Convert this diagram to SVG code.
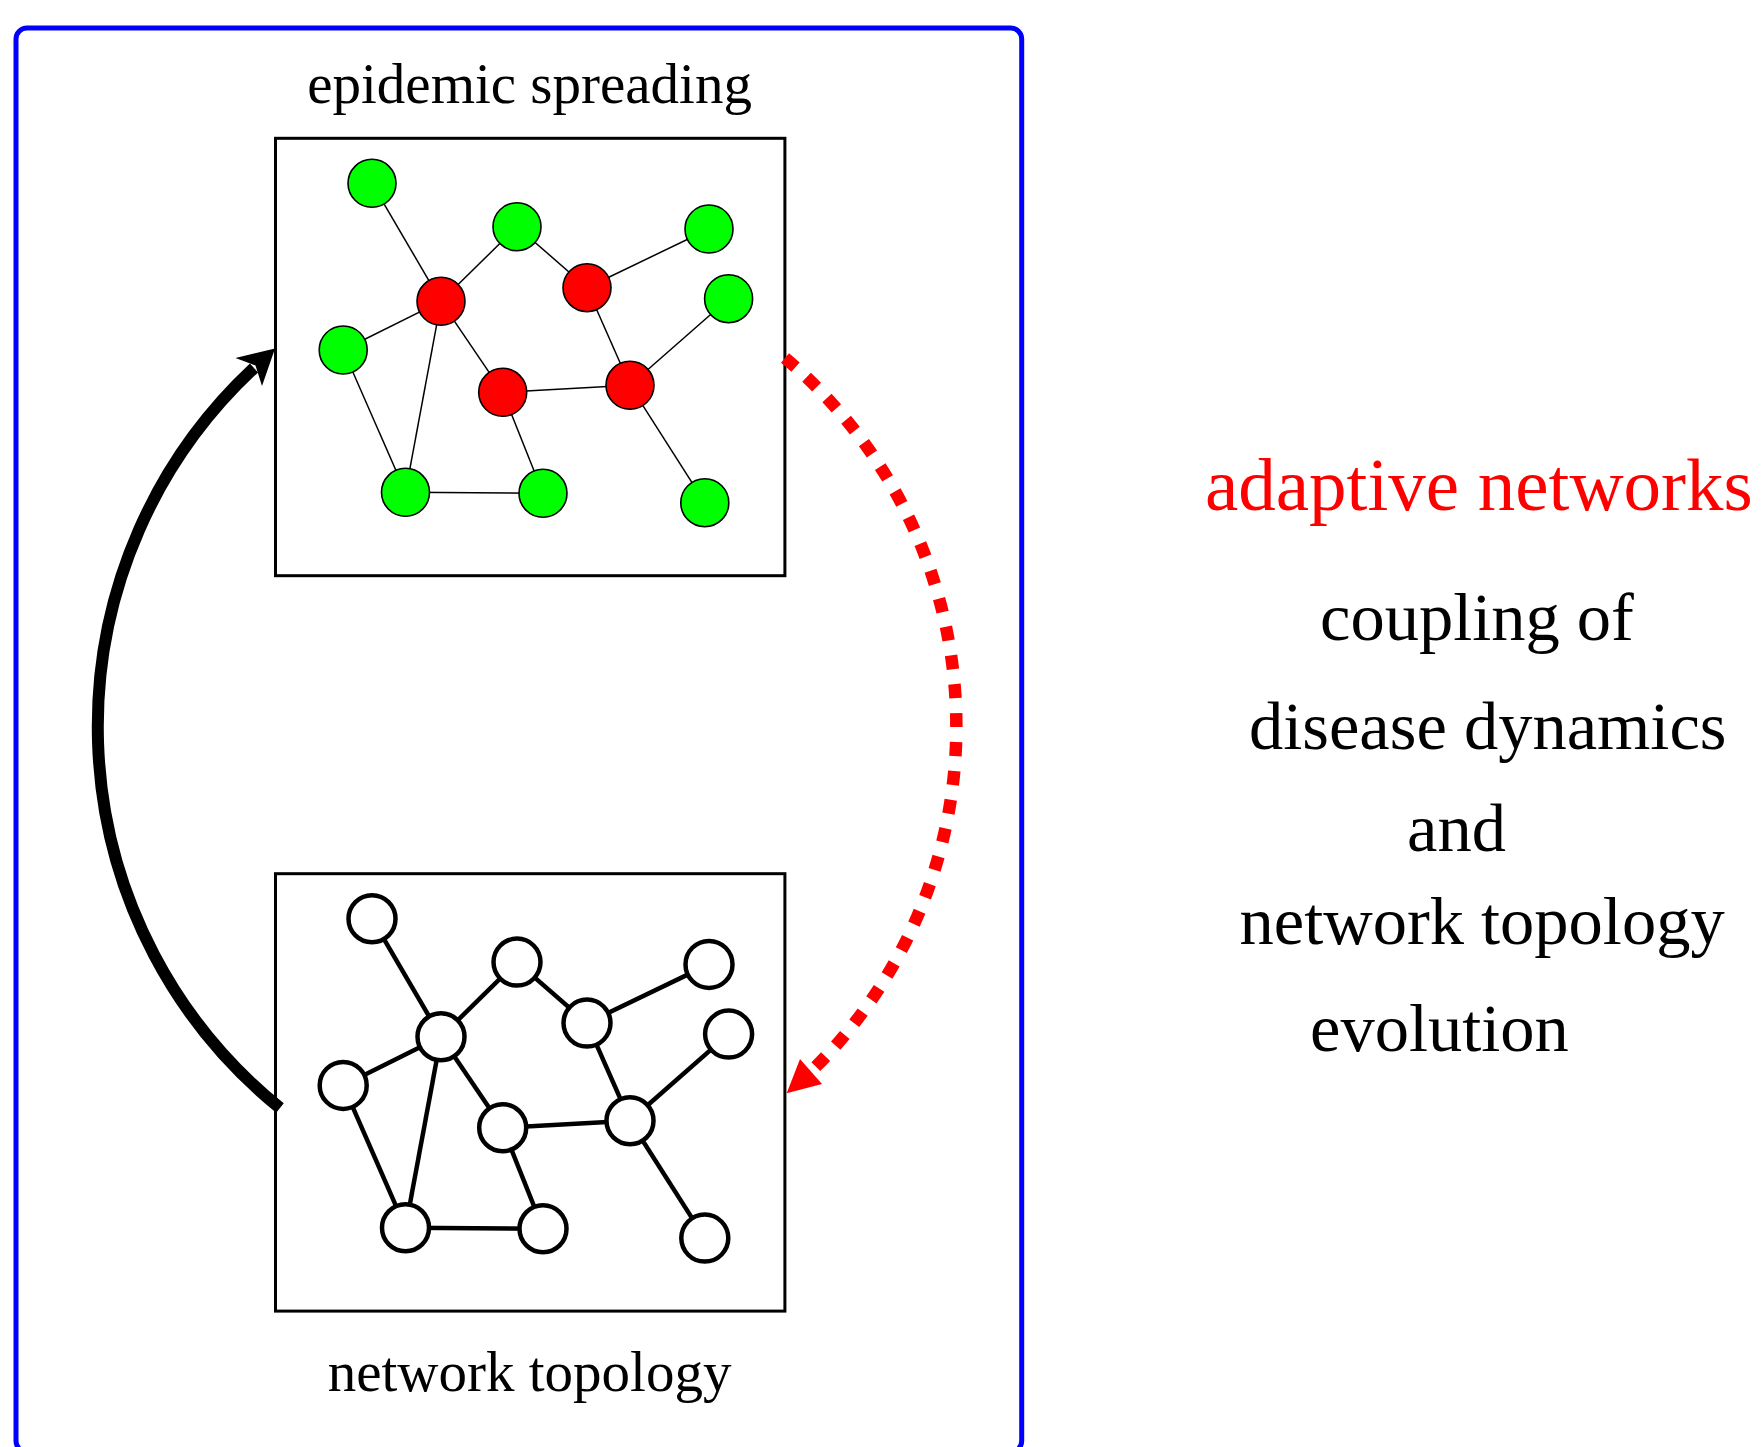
<svg xmlns="http://www.w3.org/2000/svg" width="1763" height="1447" viewBox="0 0 1763 1447">
<style>
.txt{font-family:"Liberation Serif","Times New Roman",serif;fill:#000}
.panel{fill:none;stroke:#000;stroke-width:3}
.e1{stroke:#000;stroke-width:1.5;fill:none}
.e2{stroke:#000;stroke-width:4.5;fill:none}
.g{fill:#00ff00;stroke:#000;stroke-width:1.6}
.r{fill:#ff0000;stroke:#000;stroke-width:1.6}
.w{fill:#fff;stroke:#000;stroke-width:4.5}
</style>
<rect id="frame" x="16" y="28" width="1005.7" height="1424" rx="11" fill="none" stroke="#0000ff" stroke-width="5"/>
<g id="panel-top"><rect class="panel" x="275.5" y="138.3" width="509.4" height="437.4"/></g>
<g id="panel-bottom"><rect class="panel" x="275.5" y="873.7" width="509.4" height="437.4"/></g>
<text class="txt" x="529.6" y="103" font-size="57" text-anchor="middle">epidemic spreading</text>
<text class="txt" x="529.6" y="1391" font-size="57" text-anchor="middle">network topology</text>
<text x="1205" y="509.7" font-size="75" style="font-family:'Liberation Serif','Times New Roman',serif;fill:#ff0000">adaptive networks</text>
<text class="txt" x="1320" y="639.5" font-size="68.5">coupling of</text>
<text class="txt" x="1249" y="748.7" font-size="68.5">disease dynamics</text>
<text class="txt" x="1407" y="851.2" font-size="68.5">and</text>
<text class="txt" x="1239.5" y="943.7" font-size="68.5">network topology</text>
<text class="txt" x="1310" y="1051" font-size="68.5">evolution</text>
<g id="connectors">
<g id="edges-top" class="e1">
<line x1="372" y1="183.3" x2="441" y2="301.3"/>
<line x1="517" y1="226.7" x2="441" y2="301.3"/>
<line x1="517" y1="226.7" x2="587" y2="287.7"/>
<line x1="709" y1="229" x2="587" y2="287.7"/>
<line x1="441" y1="301.3" x2="343.2" y2="350"/>
<line x1="441" y1="301.3" x2="502.7" y2="392.3"/>
<line x1="441" y1="301.3" x2="405.5" y2="492.3"/>
<line x1="587" y1="287.7" x2="630" y2="385.3"/>
<line x1="728.6" y1="298.7" x2="630" y2="385.3"/>
<line x1="343.2" y1="350" x2="405.5" y2="492.3"/>
<line x1="502.7" y1="392.3" x2="630" y2="385.3"/>
<line x1="502.7" y1="392.3" x2="543" y2="493.3"/>
<line x1="630" y1="385.3" x2="704.8" y2="502.7"/>
<line x1="405.5" y1="492.3" x2="543" y2="493.3"/>
</g>
<g id="edges-bottom" class="e2">
<line x1="372" y1="918.7" x2="441" y2="1036.7"/>
<line x1="517" y1="962.1" x2="441" y2="1036.7"/>
<line x1="517" y1="962.1" x2="587" y2="1023.1"/>
<line x1="709" y1="964.4" x2="587" y2="1023.1"/>
<line x1="441" y1="1036.7" x2="343.2" y2="1085.4"/>
<line x1="441" y1="1036.7" x2="502.7" y2="1127.7"/>
<line x1="441" y1="1036.7" x2="405.5" y2="1227.7"/>
<line x1="587" y1="1023.1" x2="630" y2="1120.7"/>
<line x1="728.6" y1="1034.1" x2="630" y2="1120.7"/>
<line x1="343.2" y1="1085.4" x2="405.5" y2="1227.7"/>
<line x1="502.7" y1="1127.7" x2="630" y2="1120.7"/>
<line x1="502.7" y1="1127.7" x2="543" y2="1228.7"/>
<line x1="630" y1="1120.7" x2="704.8" y2="1238.1"/>
<line x1="405.5" y1="1227.7" x2="543" y2="1228.7"/>
</g>
<g id="arrow-topology-to-epidemic">
<path d="M280 1108 A490 490 0 0 1 254 368" fill="none" stroke="#000" stroke-width="12"/>
<polygon points="275,348.5 235.5,358 255.5,365.5 262,386" fill="#000"/>
</g>
<g id="arrow-epidemic-to-topology">
<path d="M785 358 A482 482 0 0 1 811 1071.5" fill="none" stroke="#ff0000" stroke-width="12.5" stroke-dasharray="14 15"/>
<polygon points="786.7,1093.3 800,1059 822,1084" fill="#ff0000"/>
</g>
</g>
<g id="top-nodes">
<g id="t1"><circle class="g" cx="372" cy="183.3" r="24"/></g>
<g id="t2"><circle class="g" cx="517" cy="226.7" r="24"/></g>
<g id="t3"><circle class="g" cx="709" cy="229" r="24"/></g>
<g id="t4"><circle class="r" cx="441" cy="301.3" r="24"/></g>
<g id="t5"><circle class="r" cx="587" cy="287.7" r="24"/></g>
<g id="t6"><circle class="g" cx="728.6" cy="298.7" r="24"/></g>
<g id="t7"><circle class="g" cx="343.2" cy="350" r="24"/></g>
<g id="t8"><circle class="r" cx="502.7" cy="392.3" r="24"/></g>
<g id="t9"><circle class="r" cx="630" cy="385.3" r="24"/></g>
<g id="t10"><circle class="g" cx="405.5" cy="492.3" r="24"/></g>
<g id="t11"><circle class="g" cx="543" cy="493.3" r="24"/></g>
<g id="t12"><circle class="g" cx="704.8" cy="502.7" r="24"/></g>
</g>
<g id="bottom-nodes">
<g id="b1"><circle class="w" cx="372" cy="918.7" r="23.5"/></g>
<g id="b2"><circle class="w" cx="517" cy="962.1" r="23.5"/></g>
<g id="b3"><circle class="w" cx="709" cy="964.4" r="23.5"/></g>
<g id="b4"><circle class="w" cx="441" cy="1036.7" r="23.5"/></g>
<g id="b5"><circle class="w" cx="587" cy="1023.1" r="23.5"/></g>
<g id="b6"><circle class="w" cx="728.6" cy="1034.1" r="23.5"/></g>
<g id="b7"><circle class="w" cx="343.2" cy="1085.4" r="23.5"/></g>
<g id="b8"><circle class="w" cx="502.7" cy="1127.7" r="23.5"/></g>
<g id="b9"><circle class="w" cx="630" cy="1120.7" r="23.5"/></g>
<g id="b10"><circle class="w" cx="405.5" cy="1227.7" r="23.5"/></g>
<g id="b11"><circle class="w" cx="543" cy="1228.7" r="23.5"/></g>
<g id="b12"><circle class="w" cx="704.8" cy="1238.1" r="23.5"/></g>
</g>
</svg>
